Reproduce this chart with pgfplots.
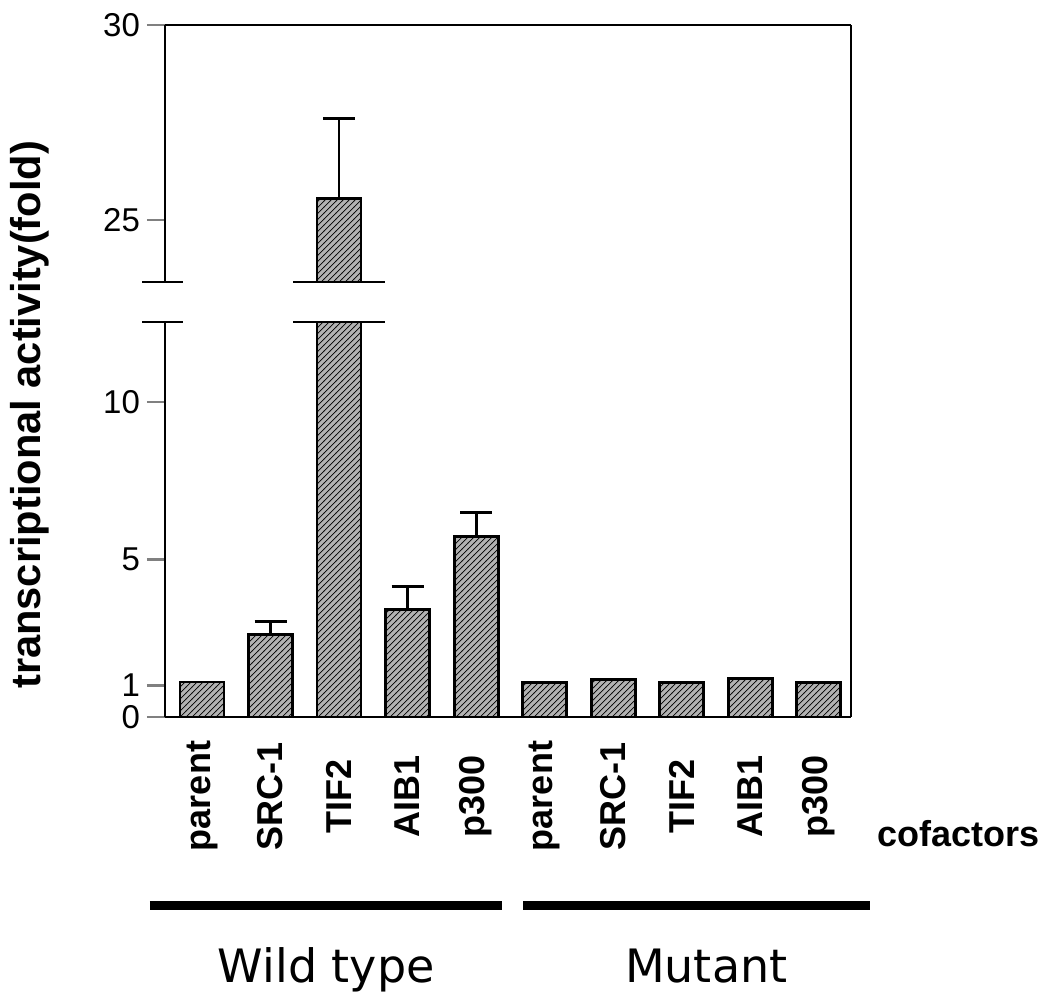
\documentclass[border=0pt]{standalone}
\usepackage{fontspec}
\setmainfont{Liberation Sans}
\newfontfamily\lucida{DejaVu Sans}
\usepackage{pgfplots}
\usepackage{pgfplotstable}
\pgfplotsset{compat=1.18}
\usetikzlibrary{patterns,calc}

% fold activation, plus-only error (0 = no error bar)
\pgfplotstableread{
x y err
0 1.11 0
1 2.62 0.42
2 25.56 2.04
3 3.42 0.73
4 5.72 0.77
5 1.09 0
6 1.20 0
7 1.09 0
8 1.23 0
9 1.10 0
}\data

\pgfplotsset{
  brk/.style={
    scale only axis, width=343pt,
    xmin=-0.54, xmax=9.47,
    axis line style={line width=1.4pt},
    tick align=outside, major tick length=9pt,
    ytick style={line width=1.4pt},
    xtick style={draw=none},
    ytick pos=left,
    tick label style={font=\fontsize{16.5}{19}\selectfont},
    /pgf/number format/assume math mode=true,
  },
  bars/.style={
    ybar, bar width=22pt, fill=gray!60, draw=black, line width=1.4pt,
    postaction={pattern=north east lines},
    error bars/.cd, y dir=plus, y explicit,
    error bar style={line width=1.4pt, black},
    error mark options={rotate=90, mark size=8pt, line width=1.4pt, black},
  },
}

\begin{document}
\begin{tikzpicture}
\begin{axis}[
  brk, name=lower, height=197.5pt,
  ymin=0, ymax=12.54, ytick={0,1,5,10},
  axis x line*=bottom, axis y line*=box, ytick pos=left,
  xtick={0,...,9},
  xticklabels={parent,SRC-1,TIF2,AIB1,p300,parent,SRC-1,TIF2,AIB1,p300},
  xticklabel style={yshift=-30.5pt, rotate=90, anchor=center, font=\bfseries\fontsize{18}{21}\selectfont},
  ylabel={transcriptional activity(fold)},
  ylabel style={at={(rel axis cs:-0.197,0.765)}, anchor=center, font=\bfseries\fontsize{20.8}{24}\selectfont},
  clip mode=individual,
]
\addplot[bars] table[x=x, y=y, y error=err] {\data};
\node[font=\bfseries\fontsize{18}{21}\selectfont] at (rel axis cs:1.157,-0.294) {cofactors};
\draw[line width=4.5pt] (rel axis cs:-0.022,-0.476) -- (rel axis cs:0.491,-0.476);
\draw[line width=4.5pt] (rel axis cs:0.522,-0.476) -- (rel axis cs:1.028,-0.476);
\node[font=\lucida\fontsize{23}{27}\selectfont, anchor=base] at (rel axis cs:0.235,-0.673) {Wild type};
\node[font=\lucida\fontsize{23}{27}\selectfont, anchor=base] at (rel axis cs:0.789,-0.673) {Mutant};
\end{axis}

\begin{axis}[
  brk, name=upper, height=128.5pt,
  at={($(lower.north west)+(0,20pt)$)}, anchor=south west,
  ymin=23.41, ymax=30, ytick={25,30},
  axis x line*=top, axis y line*=box, ytick pos=left,
  xtick=\empty,
  restrict y to domain=23:31,
]
\addplot[bars] table[x=x, y=y, y error=err] {\data};
\end{axis}

% axis break marks
\draw[line width=1.4pt] (upper.south east) -- (lower.north east);
\draw[line width=1.4pt] ([xshift=-11.5pt]upper.south west) -- ([xshift=9pt]upper.south west);
\draw[line width=1.4pt] ([xshift=-11.5pt]lower.north west) -- ([xshift=9pt]lower.north west);
\draw[line width=1.4pt] ([xshift=64pt]upper.south west) -- ([xshift=110pt]upper.south west);
\draw[line width=1.4pt] ([xshift=64pt]lower.north west) -- ([xshift=110pt]lower.north west);

\useasboundingbox ([shift={(-82.5pt,-139pt)}]lower.south west) rectangle ([shift={(449.5pt,358.5pt)}]lower.south west);
\end{tikzpicture}
\end{document}
